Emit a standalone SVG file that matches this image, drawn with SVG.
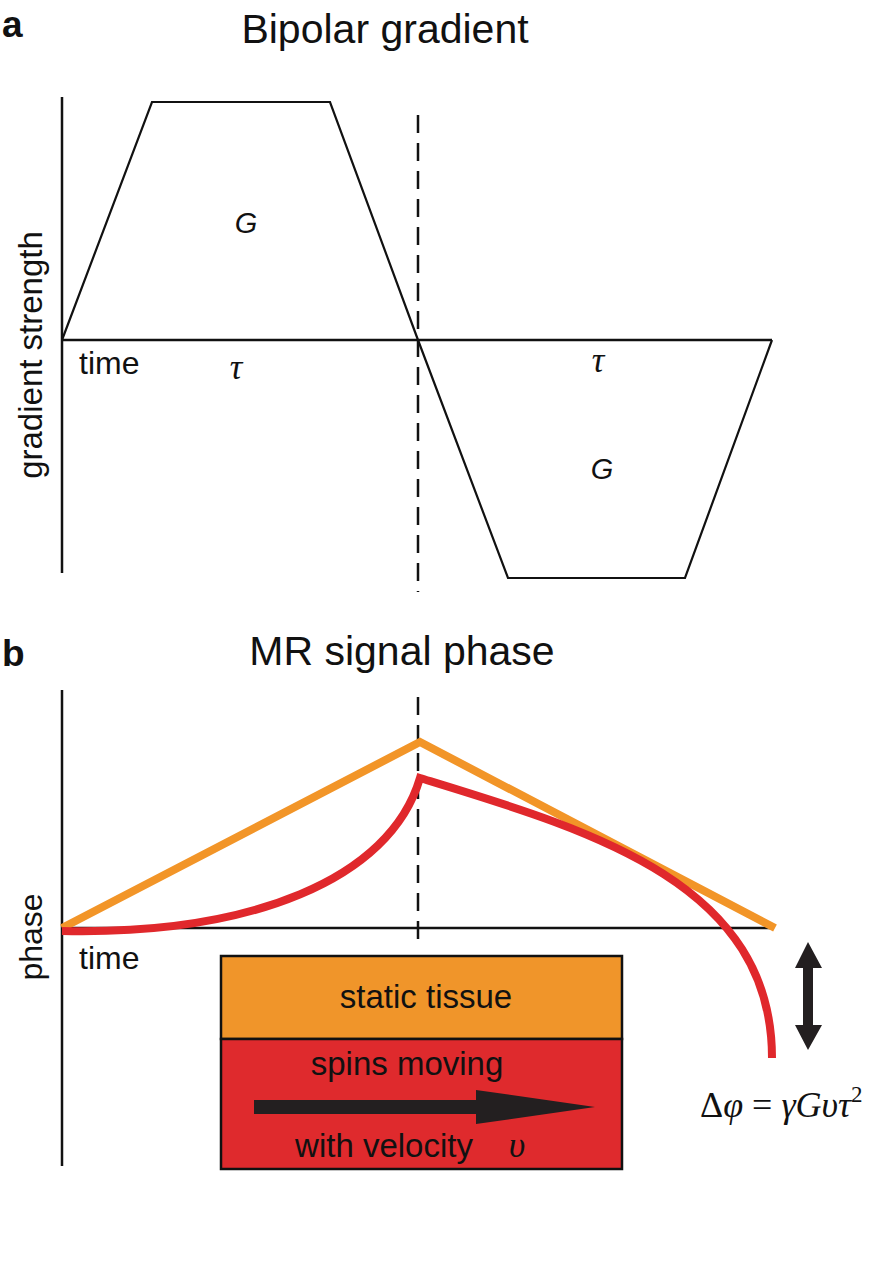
<svg xmlns="http://www.w3.org/2000/svg" width="871" height="1275" viewBox="0 0 871 1275">
<style>
.sans{font-family:"Liberation Sans",Arial,sans-serif;fill:#111}
.serif{font-family:"Liberation Serif","Times New Roman",serif;fill:#111}
.ax{stroke:#111;stroke-width:2.5;fill:none}
.wave{stroke:#111;stroke-width:2.2;fill:none;stroke-linejoin:miter}
.dash{stroke:#111;stroke-width:2.5;stroke-dasharray:18 10;fill:none}
.lab{font-size:32px}
.title{font-size:41px}
.panel{font-size:37px;font-weight:bold}
</style>
<rect width="871" height="1275" fill="#fff"/>
<g id="panel-a">
  <text class="sans panel" x="2" y="37">a</text>
  <text class="sans title" x="385" y="43" text-anchor="middle">Bipolar gradient</text>
  <line class="ax" x1="62" y1="97" x2="62" y2="573"/>
  <line class="ax" x1="62" y1="340" x2="772" y2="340"/>
  <polyline class="wave" points="62,340 152,102 330,102 418,340 508,578 685,578 772,340"/>
  <line class="dash" x1="418" y1="115" x2="418" y2="592"/>
  <text class="sans lab" x="79" y="374">time</text>
  <text class="sans" font-size="33" transform="translate(42,355) rotate(-90)" text-anchor="middle">gradient strength</text>
  <text class="sans" x="246" y="233" font-size="29" font-style="italic" text-anchor="middle">G</text>
  <text class="sans" x="602" y="479" font-size="29" font-style="italic" text-anchor="middle">G</text>
  <text class="serif" x="236" y="379" font-size="35" font-style="italic" text-anchor="middle">τ</text>
  <text class="serif" x="598" y="372" font-size="35" font-style="italic" text-anchor="middle">τ</text>
</g>
<g id="panel-b">
  <text class="sans panel" x="2" y="666">b</text>
  <text class="sans title" x="402" y="665" text-anchor="middle">MR signal phase</text>
  <line class="ax" x1="62" y1="690" x2="62" y2="1166"/>
  <line class="ax" x1="62" y1="928" x2="772" y2="928"/>
  <line class="dash" x1="418" y1="697" x2="418" y2="946"/>
  <text class="sans lab" x="79" y="969">time</text>
  <text class="sans lab" transform="translate(42,937) rotate(-90)" text-anchor="middle">phase</text>
</g>
<g id="connectors">
  <polyline id="static-phase" points="62,928 420,742 775,928" fill="none" stroke="#F29528" stroke-width="8" stroke-linejoin="miter"/>
  <path id="moving-phase" d="M62,931 C250,935 390,880 420,778 C590,830 772,882 772,1058" fill="none" stroke="#E0282C" stroke-width="8" stroke-linejoin="miter"/>
  <polygon id="delta-arrow" points="808,942 822,968 813,968 813,1025 822,1025 808,1050 795,1025 803,1025 803,968 795,968" fill="#231F20"/>
</g>
<g id="legend">
  <g id="static-tissue">
    <rect x="221" y="956" width="401" height="83" fill="#F0952A" stroke="#111" stroke-width="2.5"/>
    <text class="sans" x="426" y="1008" font-size="33" text-anchor="middle">static tissue</text>
  </g>
  <g id="moving-spins">
    <rect x="221" y="1039" width="401" height="130" fill="#DF2A2D" stroke="#111" stroke-width="2.5"/>
    <text class="sans" x="407" y="1075" font-size="33" text-anchor="middle">spins moving</text>
    <polygon points="254,1100 476,1100 476,1090 595,1107 476,1124 476,1114 254,1114" fill="#231F20"/>
    <text class="sans" x="384" y="1157" font-size="33" text-anchor="middle">with velocity</text>
    <text class="serif" x="517" y="1157" font-size="36" font-style="italic" text-anchor="middle">υ</text>
  </g>
</g>
<g id="formula">
  <text class="serif" x="700" y="1117" font-size="36">Δ<tspan font-style="italic">φ</tspan> = <tspan font-style="italic">γGυτ</tspan><tspan font-size="23" dy="-15">2</tspan></text>
</g>
</svg>
